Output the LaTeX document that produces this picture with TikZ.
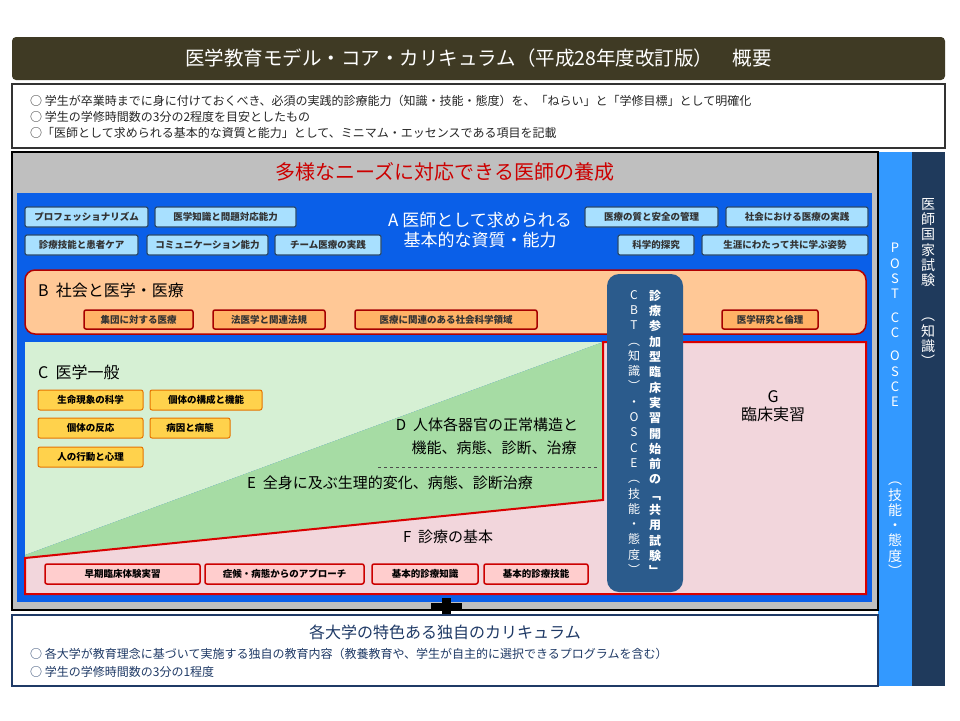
\documentclass[tikz,border=0pt]{standalone}
\usepackage{fontspec}
\setmainfont{Noto Sans CJK JP}
\definecolor{ttl}{HTML}{3F3A24}
\definecolor{mblue}{HTML}{0A5FE8}
\definecolor{lblue}{HTML}{A8E0FF}
\definecolor{bbord}{HTML}{2C4A6A}
\definecolor{lgreen}{HTML}{D6F0D4}
\definecolor{dgreen}{HTML}{A6DCA4}
\definecolor{pinkbg}{HTML}{F2D6DC}
\definecolor{orbg}{HTML}{FFC896}
\definecolor{postc}{HTML}{3399FF}
\definecolor{navy}{HTML}{1F3A5C}
\definecolor{cbtc}{HTML}{2B5B8C}
\definecolor{ubl}{HTML}{1F3A66}
\begin{document}
\begin{tikzpicture}[x=1pt,y=-1pt,
 fs/.style={font=\fontsize{#1}{#1}\selectfont},
 abox/.style={draw=bbord,line width=1.2pt,fill=lblue,rounded corners=2pt,inner sep=0,font=\fontsize{9.5}{9.5}\selectfont\bfseries,text=black!80},
 bbox/.style={draw=red!65!black,line width=1.5pt,fill=orange!60,rounded corners=2pt,inner sep=0,font=\fontsize{9.5}{9.5}\selectfont\bfseries,text=black!80},
 cbox/.style={draw=orange!90!black,line width=1pt,fill=orange!50!yellow!70,rounded corners=2pt,inner sep=0,font=\fontsize{9.5}{9.5}\selectfont\bfseries},
 fbox/.style={draw=red!80!black,line width=1.5pt,fill=pink!90!red!60,rounded corners=2pt,inner sep=0,font=\fontsize{9.5}{9.5}\selectfont\bfseries},
 vtxt/.style={align=center,text=white,inner sep=0,font=\fontsize{#1}{15.3}\selectfont},
 line/.style={fs=12,anchor=west,inner sep=0,text=black!85}]
\useasboundingbox (0,0) rectangle (960,720);
\fill[white] (0,0) rectangle (960,720);
% title
\node[fill=ttl,rounded corners=4pt,minimum width=933,minimum height=43,inner sep=0,text=white,fs=19.5] (title) at (478.5,58.5) {医学教育モデル・コア・カリキュラム（平成28年度改訂版）\quad 概要};
\node[draw=black!80,line width=1.2pt,minimum width=933,minimum height=64,inner sep=0] (info) at (478.5,116) {};
\node[line] (i1) at (30,101) {○ 学生が卒業時までに身に付けておくべき、必須の実践的診療能力（知識・技能・態度）を、「ねらい」と「学修目標」として明確化};
\node[line] (i2) at (30,117) {○ 学生の学修時間数の3分の2程度を目安としたもの};
\node[line] (i3) at (30,133) {○「医師として求められる基本的な資質と能力」として、ミニマム・エッセンスである項目を記載};
% right columns
\fill[postc] (878,152) rectangle (912,686);
\fill[navy] (912,152) rectangle (945,686);
\node[vtxt=13] (post) at (895,325) {P\\O\\S\\T\\[8pt]C\\C\\[8pt]O\\S\\C\\E};
\node[vtxt=14,anchor=north] (post2) at (895,482) {︵\\技\\能\\・\\態\\度\\︶};
\node[vtxt=14,anchor=north] (kok) at (928,198) {医\\師\\国\\家\\試\\験\\[20pt]︵\\知\\識\\︶};
% main box
\draw[black,line width=2.5pt,fill=black!25] (12,152) rectangle (878,610);
\node[text=red!80!black,fs=20,inner sep=0] (needs) at (445,172) {多様なニーズに対応できる医師の養成};
\fill[mblue] (17,193) rectangle (872,602);
\node[text=white,fs=17,align=center,inner sep=0] (A) at (480,230) {A 医師として求められる\\[3pt]基本的な資質・能力};
\node[abox,minimum width=123,minimum height=20] (a1) at (86.5,217) {プロフェッショナリズム};
\node[abox,minimum width=141,minimum height=20] (a2) at (225.5,217) {医学知識と問題対応能力};
\node[abox,minimum width=133,minimum height=20] (a3) at (651.5,217) {医療の質と安全の管理};
\node[abox,minimum width=142,minimum height=20] (a4) at (797,217) {社会における医療の実践};
\node[abox,minimum width=113,minimum height=20] (a5) at (81.5,245) {診療技能と患者ケア};
\node[abox,minimum width=121,minimum height=20] (a6) at (207.5,245) {コミュニケーション能力};
\node[abox,minimum width=106,minimum height=20] (a7) at (328,245) {チーム医療の実践};
\node[abox,minimum width=76,minimum height=20] (a8) at (656,245) {科学的探究};
\node[abox,minimum width=166,minimum height=20] (a9) at (785,245) {生涯にわたって共に学ぶ姿勢};
% B
\draw[red!70!black,line width=1.5pt,fill=orbg,rounded corners=10pt] (25,270) rectangle (866,334);
\node[fs=16,anchor=west,inner sep=0] (B) at (38,290) {B\ \ 社会と医学・医療};
\node[bbox,minimum width=109,minimum height=19] (b1) at (138.5,319.5) {集団に対する医療};
\node[bbox,minimum width=112,minimum height=19] (b2) at (269,319.5) {法医学と関連法規};
\node[bbox,minimum width=182,minimum height=19] (b3) at (446,319.5) {医療に関連のある社会科学領域};
\node[bbox,minimum width=96,minimum height=19] (b4) at (770,319.5) {医学研究と倫理};
% C-G
\fill[lgreen] (25,342) -- (603,342) -- (25,555) -- cycle;
\fill[dgreen] (603,342) -- (603,500) -- (25,558) -- (25,555) -- cycle;
\fill[pinkbg] (25,558) -- (603,500) -- (603,342) -- (866,342) -- (866,594) -- (25,594) -- cycle;
\draw[red!85!black,line width=2pt] (25,558) -- (603,500) -- (603,342) -- (866,342) -- (866,594) -- (25,594) -- cycle;
\draw[black!70,dashed,line width=0.8pt] (378,467) -- (598,467);
\node[fs=16,anchor=west,inner sep=0] (C) at (38,372) {C\ \ 医学一般};
\node[cbox,minimum width=105,minimum height=20] (c1) at (90.5,400) {生命現象の科学};
\node[cbox,minimum width=112,minimum height=20] (c2) at (206,400) {個体の構成と機能};
\node[cbox,minimum width=105,minimum height=20] (c3) at (90.5,428) {個体の反応};
\node[cbox,minimum width=80,minimum height=20] (c4) at (190,428) {病因と病態};
\node[cbox,minimum width=105,minimum height=20] (c5) at (90.5,457) {人の行動と心理};
\node[fs=15,inner sep=0] (D1) at (487,425) {D\ \ 人体各器官の正常構造と};
\node[fs=15,inner sep=0] (D2) at (494,448) {機能、病態、診断、治療};
\node[fs=15,inner sep=0] (E) at (390,483) {E\ \ 全身に及ぶ生理的変化、病態、診断治療};
\node[fs=15,inner sep=0] (F) at (448,537) {F\ \ 診療の基本};
\node[fbox,minimum width=155,minimum height=20] (f1) at (122.5,574) {早期臨床体験実習};
\node[fbox,minimum width=159,minimum height=20] (f2) at (284.5,574) {症候・病態からのアプローチ};
\node[fbox,minimum width=106,minimum height=20] (f3) at (425,574) {基本的診療知識};
\node[fbox,minimum width=104,minimum height=20] (f4) at (536,574) {基本的診療技能};
\node[fs=16,align=center,inner sep=0] (G) at (773,406) {G\\[2pt]臨床実習};
% CBT box
\node[fill=cbtc,rounded corners=12pt,minimum width=76,minimum height=318,inner sep=0] (cbt) at (645,433) {};
\node[vtxt=12,anchor=north] (cbt1) at (634,290) {C\\B\\T\\︵\\知\\識\\︶\\・\\O\\S\\C\\E\\︵\\技\\能\\・\\態\\度\\︶};
\node[vtxt=12,anchor=north,font=\fontsize{12}{15.3}\selectfont\bfseries] (cbt2) at (655,290) {診\\療\\参\\加\\型\\臨\\床\\実\\習\\開\\始\\前\\の\\﹁\\共\\用\\試\\験\\﹂};
% plus
\fill[black] (442,598) rectangle (451,623);
\fill[black] (431,603) rectangle (462,611);
% bottom
\draw[ubl,line width=2pt,fill=white] (12,615) rectangle (878,686);
\node[fs=16,inner sep=0,text=ubl] (uni) at (445,632) {各大学の特色ある独自のカリキュラム};
\node[line,text=ubl] (u1) at (30,654) {○ 各大学が教育理念に基づいて実施する独自の教育内容（教養教育や、学生が自主的に選択できるプログラムを含む）};
\node[line,text=ubl] (u2) at (30,672) {○ 学生の学修時間数の3分の1程度};
\end{tikzpicture}
\end{document}
